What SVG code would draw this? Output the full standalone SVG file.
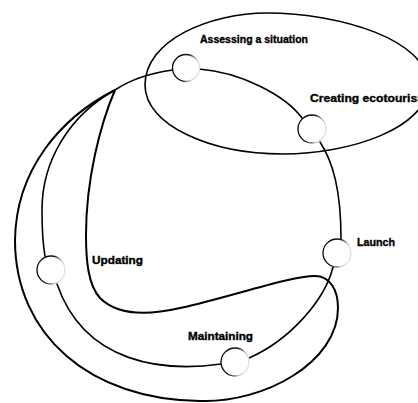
<svg xmlns="http://www.w3.org/2000/svg" width="418" height="403" viewBox="0 0 418 403">
<defs>
<linearGradient id="ring" x1="0" y1="0" x2="1" y2="0.3">
<stop offset="0" stop-color="#000"/>
<stop offset="0.55" stop-color="#111"/>
<stop offset="0.85" stop-color="#bbb"/>
<stop offset="1" stop-color="#e0e0e0"/>
</linearGradient>
</defs>
<style>
.line{fill:none;stroke:#000;stroke-width:1.6;stroke-linecap:round}
.loop{fill:none;stroke:#000;stroke-width:2}
.node circle{fill:#fff;stroke:url(#ring);stroke-width:1.3}
.lbl{font-family:"Liberation Sans",Arial,sans-serif;font-weight:bold;font-size:10.5px;fill:#000;stroke:#000;stroke-width:0.35}
</style>
<rect width="418" height="403" fill="#fff"/>
<g id="scope">
<path class="line" d="M145,85 C145,40 210,13 267,13 C340,13 428,40 428,85 C428,128 350,154 283,154 C210,154 145,125 145,85 Z"/>
</g>
<g id="connectors">
<path class="line" d="M173,70 C150,73 130,80 115,90"/>
<path class="loop" d="M115,90 C60,118 16,170 15,240 C15,335 90,400 200,401 C265,403 338,362 338,308 C338,290 330,276 315,276 C290,276 230,297 180,308 C150,315 118,316 100,298 C88,285 86,260 86,235 C86,180 100,125 115,90"/>
<path class="line" d="M115,90 C70,115 42,160 42,210 C42,230 43,245 45,256"/>
<path class="line" d="M199,69 C240,72 285,95 302,118"/>
<path class="line" d="M320,142 C333,162 341,190 341,239"/>
<path class="line" d="M333,267 C325,300 290,340 249,358"/>
<path class="line" d="M221,364 C165,372 85,365 57,284"/>
</g>
<g id="assessing" class="node">
<circle cx="186" cy="68" r="13.5"/>
<text class="lbl" x="200" y="43" textLength="108" lengthAdjust="spacingAndGlyphs">Assessing a situation</text>
</g>
<g id="creating" class="node">
<circle cx="312" cy="129" r="14"/>
<text class="lbl" x="310" y="102" textLength="118" lengthAdjust="spacingAndGlyphs">Creating ecotourism</text>
</g>
<g id="launch" class="node">
<circle cx="337" cy="253" r="14"/>
<text class="lbl" x="357" y="246" textLength="38" lengthAdjust="spacingAndGlyphs">Launch</text>
</g>
<g id="updating" class="node">
<circle cx="51" cy="270" r="14"/>
<text class="lbl" x="92" y="264" textLength="51" lengthAdjust="spacingAndGlyphs">Updating</text>
</g>
<g id="maintaining" class="node">
<circle cx="235" cy="362" r="14"/>
<text class="lbl" x="188" y="340" textLength="65" lengthAdjust="spacingAndGlyphs">Maintaining</text>
</g>
</svg>
